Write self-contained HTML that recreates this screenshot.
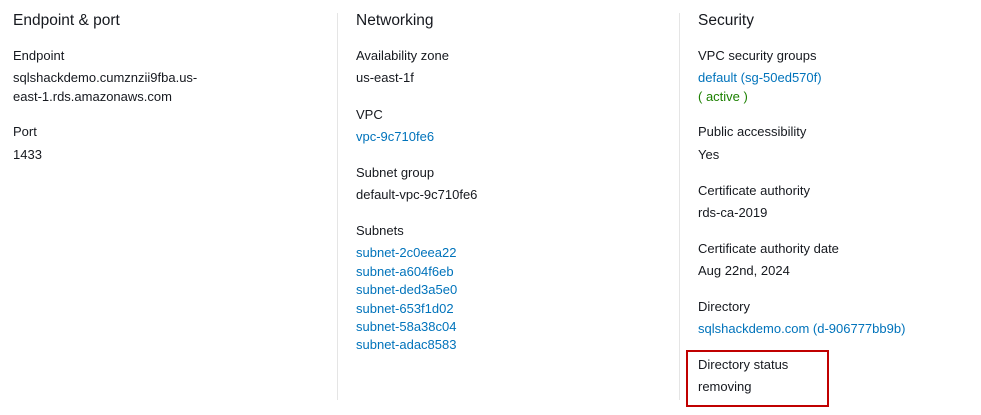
<!DOCTYPE html>
<html><head><style>
body{margin:0;width:981px;height:415px;background:#fff;position:relative;overflow:hidden;font-family:"Liberation Sans",sans-serif;color:#16191f}
.t{position:absolute;font-size:13px;line-height:16px;white-space:nowrap}
.h{position:absolute;font-size:15.5px;line-height:18px;white-space:nowrap}
.b{color:#0073bb}.g{color:#1d8102}
.v{position:absolute;top:13px;height:387px;width:1px;background:#e5e5e5}
</style></head><body>
<div class="v" style="left:337px"></div>
<div class="v" style="left:679px"></div>
<div class="h" style="left:13px;top:12px">Endpoint &amp; port</div>
<div class="t" style="left:13px;top:48px">Endpoint</div>
<div class="t" style="left:13px;top:70px">sqlshackdemo.cumznzii9fba.us-</div>
<div class="t" style="left:13px;top:89px">east-1.rds.amazonaws.com</div>
<div class="t" style="left:13px;top:124px">Port</div>
<div class="t" style="left:13px;top:147px">1433</div>

<div class="h" style="left:356px;top:12px">Networking</div>
<div class="t" style="left:356px;top:48px">Availability zone</div>
<div class="t" style="left:356px;top:70px">us-east-1f</div>
<div class="t" style="left:356px;top:107px">VPC</div>
<div class="t b" style="left:356px;top:129px">vpc-9c710fe6</div>
<div class="t" style="left:356px;top:165px">Subnet group</div>
<div class="t" style="left:356px;top:187px">default-vpc-9c710fe6</div>
<div class="t" style="left:356px;top:223px">Subnets</div>
<div class="t b" style="left:356px;top:245px">subnet-2c0eea22</div>
<div class="t b" style="left:356px;top:264px">subnet-a604f6eb</div>
<div class="t b" style="left:356px;top:282px">subnet-ded3a5e0</div>
<div class="t b" style="left:356px;top:301px">subnet-653f1d02</div>
<div class="t b" style="left:356px;top:319px">subnet-58a38c04</div>
<div class="t b" style="left:356px;top:337px">subnet-adac8583</div>

<div class="h" style="left:698px;top:12px">Security</div>
<div class="t" style="left:698px;top:48px">VPC security groups</div>
<div class="t b" style="left:698px;top:70px">default (sg-50ed570f)</div>
<div class="t g" style="left:698px;top:89px">( active )</div>
<div class="t" style="left:698px;top:124px">Public accessibility</div>
<div class="t" style="left:698px;top:147px">Yes</div>
<div class="t" style="left:698px;top:183px">Certificate authority</div>
<div class="t" style="left:698px;top:205px">rds-ca-2019</div>
<div class="t" style="left:698px;top:241px">Certificate authority date</div>
<div class="t" style="left:698px;top:263px">Aug 22nd, 2024</div>
<div class="t" style="left:698px;top:299px">Directory</div>
<div class="t b" style="left:698px;top:321px">sqlshackdemo.com (d-906777bb9b)</div>
<div style="position:absolute;left:686px;top:350px;width:139px;height:53px;border:2px solid #c00000"></div>
<div class="t" style="left:698px;top:357px">Directory status</div>
<div class="t" style="left:698px;top:379px">removing</div>
</body></html>
